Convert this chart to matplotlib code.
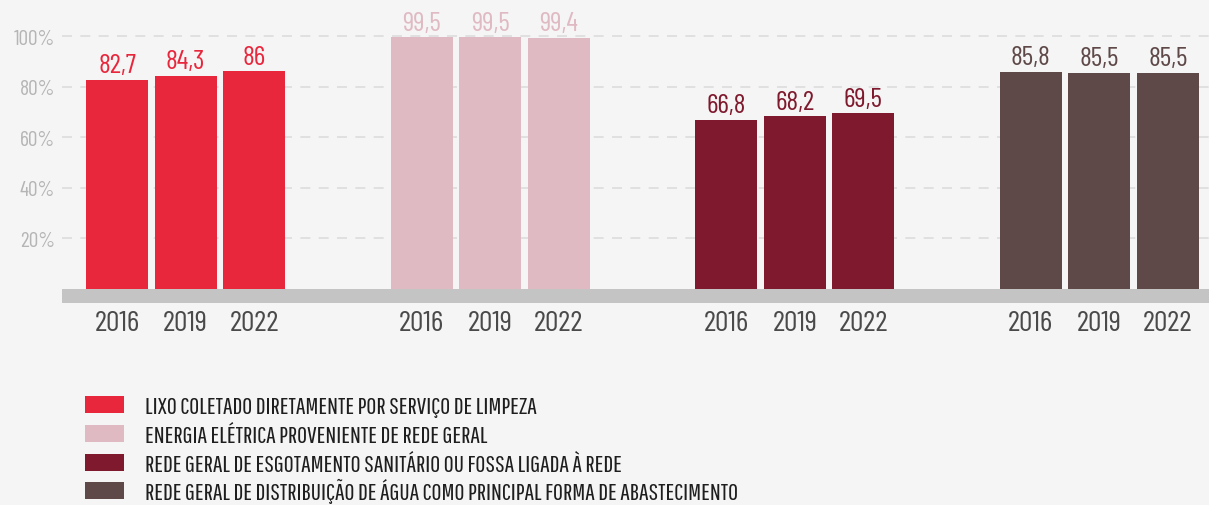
import matplotlib
matplotlib.use("Agg")
import matplotlib.pyplot as plt
from matplotlib.patches import Rectangle

years = ["2016", "2019", "2022"]
series = [
    "LIXO COLETADO DIRETAMENTE POR SERVIÇO DE LIMPEZA",
    "ENERGIA ELÉTRICA PROVENIENTE DE REDE GERAL",
    "REDE GERAL DE ESGOTAMENTO SANITÁRIO OU FOSSA LIGADA À REDE",
    "REDE GERAL DE DISTRIBUIÇÃO DE ÁGUA COMO PRINCIPAL FORMA DE ABASTECIMENTO",
]
lixo = [82.7, 84.3, 86]
energia = [99.5, 99.5, 99.4]
esgoto = [66.8, 68.2, 69.5]
agua = [85.8, 85.5, 85.5]
values = [lixo, energia, esgoto, agua]
colors = ["#e8273d", "#e0bac3", "#7f1a2e", "#5f4848"]
yticks = [20, 40, 60, 80, 100]

plt.rcParams["font.family"] = ["Barlow Condensed", "DejaVu Sans"]
LEGEND_FONT = ["Pathway Gothic One", "Barlow Condensed", "DejaVu Sans"]

W, H = 1209, 506
fig = plt.figure(figsize=(W / 100, H / 100), dpi=100, facecolor="#f5f5f5")
ax_l, ax_r = 62, 1209
ax_top, ax_bot = 10, 304
zero_px = 290
pxu = 2.53
ax = fig.add_axes([ax_l / W, (H - ax_bot) / H, (ax_r - ax_l) / W, (ax_bot - ax_top) / H])
ax.set_facecolor("none")
ymin = -(ax_bot - zero_px) / pxu
ymax = (zero_px - ax_top) / pxu
ax.set_ylim(ymin, ymax)

step = 68.5
gstep = 304.6 / step
x0 = 117
ax.set_xlim((ax_l - x0) / step, (ax_r - x0) / step)

for y in yticks:
    ax.axhline(y, color="#dcdcdc", lw=1.2, ls=(0, (6, 5)), zorder=0)
ax.axhspan(ymin, 0, color="#c4c4c4", zorder=1, lw=0)

for g, (vals, col) in enumerate(zip(values, colors)):
    xs = [g * gstep + i for i in range(3)]
    ax.bar(xs, vals, width=62 / step, color=col, zorder=2, lw=0)
    for i, (x, v) in enumerate(zip(xs, vals)):
        lab = f"{v:g}".replace(".", ",")
        ax.text(x, v + 1.0, lab, ha="center", va="bottom", color=col, fontsize=20)
        ax.text(x, ymin - 2.8, years[i], ha="center", va="top",
                color="#4a4a4a", fontsize=21.5)

ax.set_yticks(yticks)
ax.set_yticklabels([f"{t}%" for t in yticks], color="#b5b5b5", fontsize=15.5)
ax.tick_params(axis="y", length=0, pad=5)
ax.set_xticks([])
for s in ax.spines.values():
    s.set_visible(False)

# legend (manual, pixel-placed)
row_top0, row_gap = 397, 28.8
sq_x, sq_w, sq_h = 85, 39, 17
txt_x = 145
for k, (lab, col) in enumerate(zip(series, colors)):
    top = row_top0 + k * row_gap
    fig.patches.append(Rectangle((sq_x / W, 1 - (top + sq_h) / H), sq_w / W, sq_h / H,
                                 transform=fig.transFigure, color=col, lw=0))
    fig.text(txt_x / W, 1 - (top + sq_h) / H, lab, ha="left", va="baseline",
             fontsize=17.5, color="#1e1e1e", family=LEGEND_FONT)

fig.savefig("out.png", dpi=100, facecolor=fig.get_facecolor())
